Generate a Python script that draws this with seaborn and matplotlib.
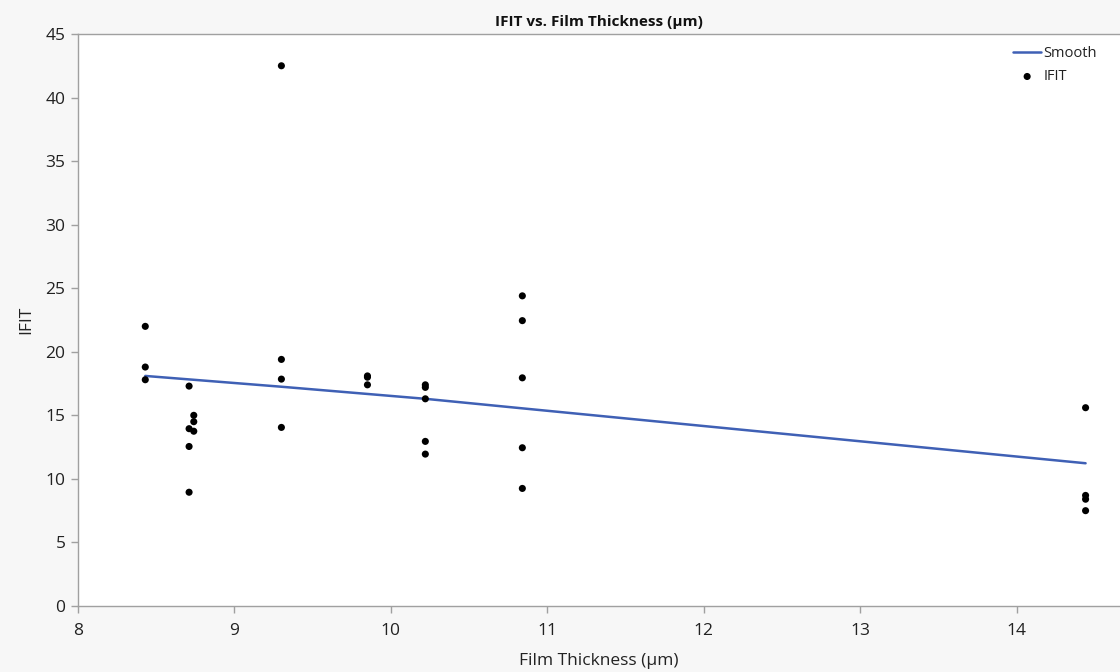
import matplotlib
matplotlib.use("Agg")
import matplotlib.pyplot as plt
import seaborn as sns
import pandas as pd

# Film thickness (µm) and IFIT observations
thickness = [8.43, 8.43, 8.43,
             8.71, 8.74, 8.74, 8.71, 8.74, 8.71, 8.71,
             9.30, 9.30, 9.30, 9.30,
             9.85, 9.85, 9.85,
             10.22, 10.22, 10.22, 10.22, 10.22,
             10.84, 10.84, 10.84, 10.84, 10.84,
             14.44, 14.44, 14.44, 14.44]
ifit = [22.0, 18.8, 17.8,
        17.3, 15.0, 14.5, 13.95, 13.75, 12.55, 8.95,
        42.5, 19.4, 17.85, 14.05,
        18.1, 18.0, 17.4,
        17.4, 17.2, 16.3, 12.95, 11.95,
        24.4, 22.45, 17.95, 12.45, 9.25,
        15.6, 8.7, 8.4, 7.5]

# Smoothing curve through the data
smooth_x = [8.43, 9.30, 10.22, 10.84, 14.44]
smooth_y = [18.1, 17.25, 16.3, 15.55, 11.23]

x_ticks = [8, 9, 10, 11, 12, 13, 14]
y_ticks = [0, 5, 10, 15, 20, 25, 30, 35, 40, 45]

sns.set_style("white")
plt.rcParams["font.family"] = ["Open Sans", "DejaVu Sans"]

pts = pd.DataFrame({"Film Thickness": thickness, "IFIT": ifit})
curve = pd.DataFrame({"x": smooth_x, "y": smooth_y})

fig = plt.figure(figsize=(11.2, 6.72), dpi=100, facecolor="#f7f7f7")
ax = fig.add_axes([78 / 1120, 66 / 672, 1042 / 1120, 572 / 672])
ax.set_facecolor("white")

sns.lineplot(data=curve, x="x", y="y", ax=ax, color="#3f60b5", lw=1.8,
             label="Smooth", zorder=2)
sns.scatterplot(data=pts, x="Film Thickness", y="IFIT", ax=ax, color="black",
                s=26, edgecolor="none", label="IFIT", zorder=3)

ax.set_xlim(8, 14.66)
ax.set_ylim(0, 45)
ax.set_xticks(x_ticks)
ax.set_yticks(y_ticks)

for side in ["left", "bottom", "top"]:
    ax.spines[side].set_visible(True)
    ax.spines[side].set_color("#a0a0a0")
    ax.spines[side].set_linewidth(1.0)
ax.spines["right"].set_visible(False)

ax.tick_params(axis="both", direction="out", length=5, width=1,
               color="#a0a0a0", labelsize=12.5, labelcolor="#222222")
ax.tick_params(axis="x", bottom=True, pad=7)
ax.tick_params(axis="y", left=True, pad=4)

ax.set_xlabel("Film Thickness (µm)", fontsize=12.5, color="#222222", labelpad=10)
ax.set_ylabel("IFIT", fontsize=12.5, color="#222222", labelpad=8)
ax.set_title("IFIT vs. Film Thickness (µm)", fontsize=11, fontweight="bold",
             color="#111111", pad=6)

leg = ax.legend(loc="upper left", frameon=False, fontsize=10.5,
                handlelength=1.9, handletextpad=0.15, borderaxespad=0.0,
                borderpad=0.5, labelspacing=0.55)
leg.set_bbox_to_anchor((1006 / 1120, 1 - 39 / 672), transform=fig.transFigure)
for t in leg.get_texts():
    t.set_color("#222222")

fig.savefig("out.png", dpi=100, facecolor=fig.get_facecolor())
